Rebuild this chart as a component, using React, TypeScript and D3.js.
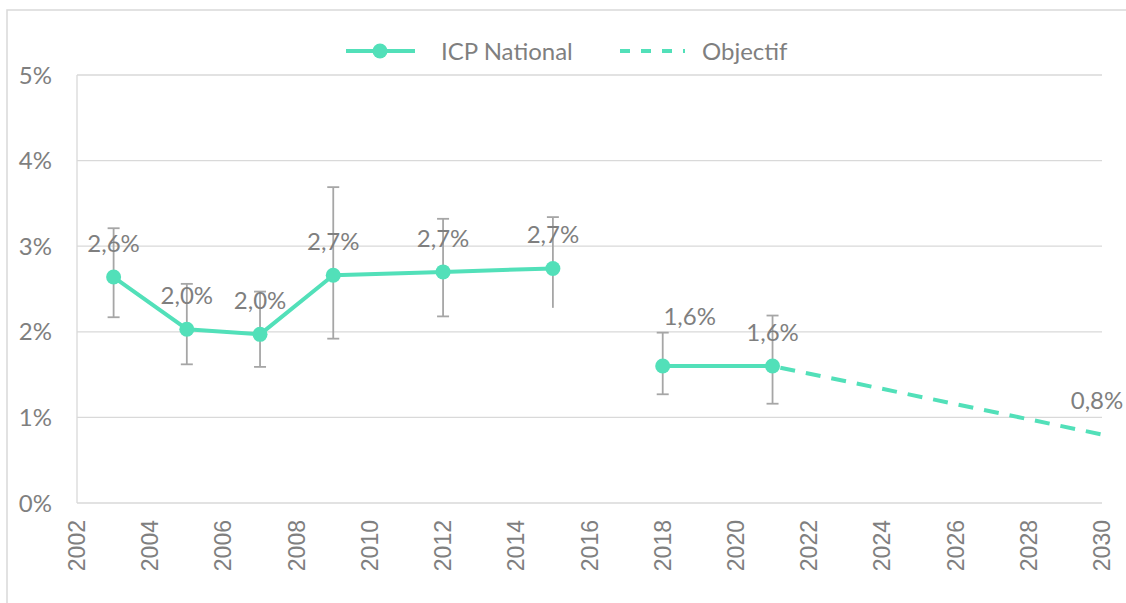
import React from "react";
import * as d3 from "d3";

const years = [2003, 2005, 2007, 2009, 2012, 2015, 2018, 2021];
const values = [2.64, 2.03, 1.97, 2.66, 2.70, 2.74, 1.60, 1.60];
const errHigh = [3.21, 2.56, 2.47, 3.69, 3.32, 3.34, 1.99, 2.19];
const errLow = [2.17, 1.62, 1.59, 1.92, 2.18, 2.28, 1.27, 1.16];
const labels = ["2,6%", "2,0%", "2,0%", "2,7%", "2,7%", "2,7%", "1,6%", "1,6%"];
const segments = [[0, 1, 2, 3, 4, 5], [6, 7]];
const objYears = [2021, 2030];
const objValues = [1.6, 0.8];
const objLabel = "0,8%";
const yTicks = [0, 1, 2, 3, 4, 5];
const xTicks = d3.range(2002, 2031, 2);
const seriesNames = ["ICP National", "Objectif"];

const W = 1126, H = 603;
const M = { left: 77, right: 1102, top: 75, bottom: 503 };
const GREEN = "#52E0B9";
const GRAY_TEXT = "#7F7F7F";
const GRID = "#D9D9D9";
const ERR = "#A6A6A6";
const CAL = "Lato, 'Open Sans', sans-serif";
const FS = 24;

export default function App() {
  const x = d3.scaleLinear().domain([2002, 2030]).range([M.left, M.right]);
  const y = d3.scaleLinear().domain([0, 5]).range([M.bottom, M.top]);
  const line = d3.line<number>().x(i => x(years[i])).y(i => y(values[i]));
  const objLine = d3.line<number>().x((_, i) => x(objYears[i])).y(v => y(v));
  const labelOffsets: [number, number][] = years.map((yr) => (yr === 2018 ? [27, -50] : [0, -34]));

  return (
    <svg width={W} height={H} style={{ position: "absolute", left: 0, top: 0, background: "#fff" }}>
      <rect x={7} y={10} width={W + 10} height={H + 10} fill="#fff" stroke={GRID} strokeWidth={1.5} />
      {yTicks.map(t => (
        <line key={t} x1={M.left} x2={M.right} y1={y(t)} y2={y(t)} stroke={GRID} strokeWidth={1.3} />
      ))}
      <line x1={M.left} x2={M.left} y1={M.top} y2={M.bottom} stroke={GRID} strokeWidth={1.3} />
      <rect x={x(2014.85)} y={y(2.27)} width={x(2018) - x(2014.85)} height={y(2.02) - y(2.27)} fill="#fff" />
      {yTicks.map(t => (
        <text key={t} x={52} y={y(t)} dy="0.36em" textAnchor="end" fontFamily={CAL} fontSize={FS} fill={GRAY_TEXT}>{t}%</text>
      ))}
      {xTicks.map(t => (
        <text key={t} transform={`translate(${x(t) + 8},520) rotate(-90)`} textAnchor="end" fontFamily="'Liberation Sans', Arial, sans-serif" fontSize={23} fill={GRAY_TEXT}>{t}</text>
      ))}
      {years.map((yr, i) => (
        <g key={yr} stroke={ERR} strokeWidth={1.8}>
          <line x1={x(yr)} x2={x(yr)} y1={y(errHigh[i])} y2={y(errLow[i])} />
          <line x1={x(yr) - 6} x2={x(yr) + 6} y1={y(errHigh[i])} y2={y(errHigh[i])} />
          {yr !== 2015 && <line x1={x(yr) - 6} x2={x(yr) + 6} y1={y(errLow[i])} y2={y(errLow[i])} />}
        </g>
      ))}
      <path d={objLine(objValues) || ""} fill="none" stroke={GREEN} strokeWidth={4} strokeDasharray="15 11" strokeDashoffset={-8} />
      {segments.map((s, k) => (
        <path key={k} d={line(s) || ""} fill="none" stroke={GREEN} strokeWidth={4} strokeLinejoin="round" />
      ))}
      {years.map((yr, i) => (
        <circle key={yr} cx={x(yr)} cy={y(values[i])} r={7.5} fill={GREEN} />
      ))}
      {years.map((yr, i) => (
        <text key={yr} x={x(yr) + labelOffsets[i][0]} y={y(values[i]) + labelOffsets[i][1]} dy="0.36em" textAnchor="middle" fontFamily={CAL} fontSize={FS} fill={GRAY_TEXT}>{labels[i]}</text>
      ))}
      <text x={x(2030) - 5} y={y(0.8) - 34} dy="0.36em" textAnchor="middle" fontFamily={CAL} fontSize={FS} fill={GRAY_TEXT}>{objLabel}</text>
      <g>
        <line x1={346} x2={415} y1={51} y2={51} stroke={GREEN} strokeWidth={4} />
        <circle cx={380} cy={51} r={7.5} fill={GREEN} />
        <text x={441} y={51} dy="0.36em" fontFamily={CAL} fontSize={FS} fill={GRAY_TEXT}>{seriesNames[0]}</text>
        <line x1={620} x2={685} y1={51} y2={51} stroke={GREEN} strokeWidth={4} strokeDasharray="10 11" />
        <text x={702} y={51} dy="0.36em" fontFamily={CAL} fontSize={FS} fill={GRAY_TEXT}>{seriesNames[1]}</text>
      </g>
    </svg>
  );
}
